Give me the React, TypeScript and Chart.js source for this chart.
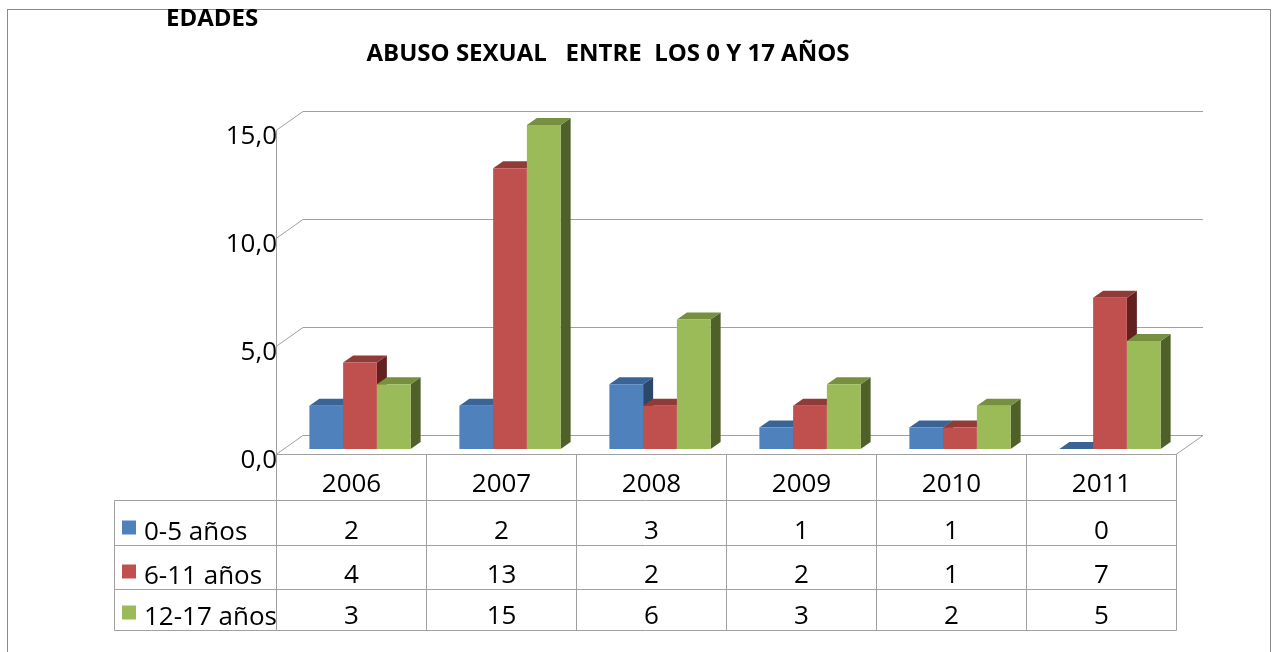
import React, { useEffect, useRef } from "react";
import { Chart, registerables } from "chart.js";

Chart.register(...registerables);

const YEARS = ["2006", "2007", "2008", "2009", "2010", "2011"];
const SERIES_NAMES = ["0-5 años", "6-11 años", "12-17 años"];
const AGE_0_5 = [2, 2, 3, 1, 1, 0];
const AGE_6_11 = [4, 13, 2, 2, 1, 7];
const AGE_12_17 = [3, 15, 6, 3, 2, 5];
const Y_TICKS = [0, 5, 10, 15];
const Y_TICK_LABELS = ["0,0", "5,0", "10,0", "15,0"];
const TITLE = "ABUSO SEXUAL   ENTRE  LOS 0 Y 17 AÑOS";
const CORNER_TITLE = "EDADES";

const FRONT_COLORS = ["#4F81BD", "#C0504D", "#9BBB59"];
const TOP_COLORS = ["#3B6496", "#913B39", "#77903F"];
const SIDE_COLORS = ["#2B4769", "#62211F", "#4F6129"];

const W = 1272;
const H = 652;
const FONT = "'Open Sans', 'Noto Sans', sans-serif";
const FRONT = { dx: -9, dy: 5.5 };
const BACK = { dx: 18, dy: -13.5 };
const DEPTH = { dx: 10, dy: -7 };
const ROW_LINES = [500.5, 545.5, 589.5, 630.5];
const TABLE_LEFT = 114.5;
const GRID = "#A0A0A0";
const TABLE_LINE = "#A0A0A0";

const scenePlugin = {
  id: "scene3d",
  beforeDatasetsDraw(chart: any) {
    const ctx = chart.ctx as CanvasRenderingContext2D;
    const area = chart.chartArea;
    const ys = chart.scales.y;
    ctx.save();

    // outer frame
    ctx.strokeStyle = "#8A8A8A";
    ctx.lineWidth = 1;
    ctx.strokeRect(7.5, 9.5, 1263, 700);

    // titles
    ctx.fillStyle = "#000";
    ctx.font = `bold 24px ${FONT}`;
    ctx.textAlign = "center";
    ctx.textBaseline = "alphabetic";
    ctx.fillText(TITLE, 608, 61);
    ctx.textAlign = "left";
    ctx.fillText(CORNER_TITLE, 166, 26);

    // back wall gridlines + left diagonals
    ctx.strokeStyle = GRID;
    ctx.lineWidth = 1;
    for (const v of Y_TICKS) {
      const y = ys.getPixelForValue(v);
      ctx.beginPath();
      ctx.moveTo(area.left + FRONT.dx, y + FRONT.dy);
      ctx.lineTo(area.left + BACK.dx, y + BACK.dy);
      ctx.lineTo(area.right + BACK.dx, y + BACK.dy);
      ctx.stroke();
    }
    const y0 = ys.getPixelForValue(0);
    const yTop = ys.getPixelForValue(Y_TICKS[Y_TICKS.length - 1]);
    // floor right edge
    ctx.beginPath();
    ctx.moveTo(area.right + FRONT.dx, y0 + FRONT.dy);
    ctx.lineTo(area.right + BACK.dx, y0 + BACK.dy);
    ctx.stroke();
    // front vertical axis
    ctx.beginPath();
    ctx.moveTo(area.left + FRONT.dx + 0.5, yTop + FRONT.dy);
    ctx.lineTo(area.left + FRONT.dx + 0.5, y0 + FRONT.dy);
    ctx.stroke();

    // y tick labels
    ctx.fillStyle = "#000";
    ctx.font = `26px ${FONT}`;
    ctx.textAlign = "right";
    Y_TICKS.forEach((v, i) => {
      const y = ys.getPixelForValue(v) + FRONT.dy + 13;
      ctx.fillText(Y_TICK_LABELS[i], area.left + FRONT.dx + 1, y);
    });

    // 3D side and top faces of bars
    const n = chart.data.labels.length;
    for (let j = 0; j < n; j++) {
      chart.data.datasets.forEach((_ds: any, i: number) => {
        const el = chart.getDatasetMeta(i).data[j];
        const p = el.getProps(["x", "y", "base", "width"], true);
        const x0 = p.x - p.width / 2;
        const x1 = p.x + p.width / 2;
        const top = p.y;
        const bottom = p.base;
        ctx.fillStyle = SIDE_COLORS[i];
        ctx.beginPath();
        ctx.moveTo(x1, top);
        ctx.lineTo(x1 + DEPTH.dx, top + DEPTH.dy);
        ctx.lineTo(x1 + DEPTH.dx, bottom + DEPTH.dy);
        ctx.lineTo(x1, bottom);
        ctx.closePath();
        ctx.fill();
        ctx.fillStyle = TOP_COLORS[i];
        ctx.beginPath();
        ctx.moveTo(x0, top);
        ctx.lineTo(x0 + DEPTH.dx, top + DEPTH.dy);
        ctx.lineTo(x1 + DEPTH.dx, top + DEPTH.dy);
        ctx.lineTo(x1, top);
        ctx.closePath();
        ctx.fill();
      });
    }
    ctx.restore();
  },
  afterDraw(chart: any) {
    const ctx = chart.ctx as CanvasRenderingContext2D;
    const area = chart.chartArea;
    const ys = chart.scales.y;
    const n = chart.data.labels.length;
    const cw = (area.right - area.left) / n;
    const y0 = ys.getPixelForValue(0) + FRONT.dy;
    const left = area.left + FRONT.dx + 0.5;
    const right = area.right + FRONT.dx + 0.5;
    const bottom = ROW_LINES[ROW_LINES.length - 1];
    ctx.save();
    ctx.strokeStyle = TABLE_LINE;
    ctx.lineWidth = 1;
    // header top (floor front)
    ctx.beginPath();
    ctx.moveTo(left, y0);
    ctx.lineTo(right, y0);
    ctx.stroke();
    // row lines
    for (const ry of ROW_LINES) {
      ctx.beginPath();
      ctx.moveTo(TABLE_LEFT, ry);
      ctx.lineTo(right, ry);
      ctx.stroke();
    }
    // vertical lines
    for (let k = 0; k <= n; k++) {
      const x = Math.round(left + k * cw - 0.5) + 0.5;
      ctx.beginPath();
      ctx.moveTo(x, y0);
      ctx.lineTo(x, bottom);
      ctx.stroke();
    }
    ctx.beginPath();
    ctx.moveTo(TABLE_LEFT, ROW_LINES[0]);
    ctx.lineTo(TABLE_LEFT, bottom);
    ctx.stroke();

    // text
    ctx.fillStyle = "#000";
    ctx.font = `26px ${FONT}`;
    ctx.textAlign = "center";
    ctx.textBaseline = "alphabetic";
    const rowTops = [y0, ...ROW_LINES];
    for (let j = 0; j < n; j++) {
      const cx = left + (j + 0.5) * cw;
      ctx.fillText(chart.data.labels[j], cx, ROW_LINES[0] - 9);
      chart.data.datasets.forEach((ds: any, i: number) => {
        ctx.fillText(String(ds.data[j]), cx, rowTops[i + 2] - 7);
      });
    }
    ctx.textAlign = "left";
    chart.data.datasets.forEach((ds: any, i: number) => {
      const rb = rowTops[i + 2];
      ctx.fillStyle = FRONT_COLORS[i];
      ctx.fillRect(122, rb - 25, 14, 14);
      ctx.fillStyle = "#000";
      ctx.fillText(ds.label, 144, rb - 6);
    });
    ctx.restore();
  },
};

export default function App() {
  const ref = useRef<HTMLCanvasElement | null>(null);
  useEffect(() => {
    if (!ref.current) return;
    const chart = new Chart(ref.current, {
      type: "bar",
      data: {
        labels: YEARS,
        datasets: [
          { label: SERIES_NAMES[0], data: AGE_0_5, backgroundColor: FRONT_COLORS[0] },
          { label: SERIES_NAMES[1], data: AGE_6_11, backgroundColor: FRONT_COLORS[1] },
          { label: SERIES_NAMES[2], data: AGE_12_17, backgroundColor: FRONT_COLORS[2] },
        ],
      },
      options: {
        responsive: false,
        animation: false,
        layout: { padding: { left: 285, right: 87, top: 125, bottom: 203 } },
        datasets: { bar: { categoryPercentage: 0.675, barPercentage: 1, borderWidth: 0 } },
        plugins: { legend: { display: false }, tooltip: { enabled: false }, title: { display: false } },
        scales: {
          x: { display: false },
          y: { display: false, min: 0, max: 15 },
        },
      },
      plugins: [scenePlugin],
    });
    return () => chart.destroy();
  }, []);
  return (
    <div style={{ position: "absolute", left: 0, top: 0, width: W, height: H, background: "#fff" }}>
      <canvas ref={ref} width={W} height={H} style={{ display: "block" }} />
    </div>
  );
}
